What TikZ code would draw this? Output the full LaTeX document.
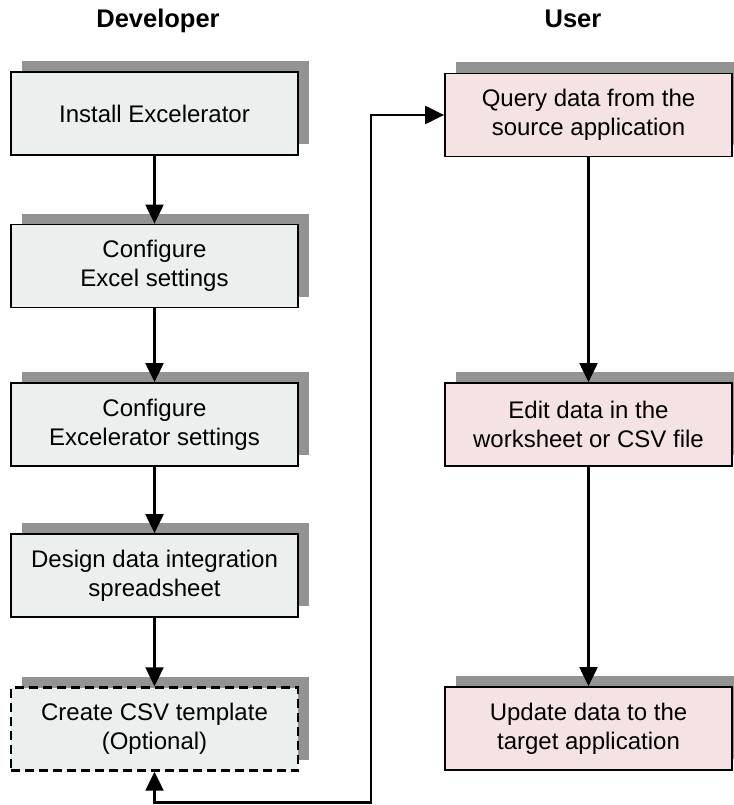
\documentclass[tikz,border=0pt]{standalone}
\usepackage{fontspec}
\setmainfont{Liberation Sans}
\usetikzlibrary{arrows.meta,positioning,shadows}
\definecolor{devfill}{HTML}{EBF0EE}
\definecolor{userfill}{HTML}{F5E3E3}
\definecolor{shadowgray}{HTML}{939393}

\begin{document}
\begin{tikzpicture}[x=1pt,y=-1pt,
    box/.style={draw,line width=1.8pt,minimum width=287pt,minimum height=83pt,
        align=center,inner sep=0pt,font=\fontsize{24}{29}\selectfont,
        drop shadow={shadow xshift=11pt,shadow yshift=11pt,fill=shadowgray,opacity=1}},
    devbox/.style={box,fill=devfill},
    userbox/.style={box,fill=userfill},
    flow/.style={line width=2.2pt,-{Triangle[width=18pt,length=19pt]}},
    title/.style={font=\bfseries\fontsize{25.5}{30}\selectfont,anchor=base}]
\useasboundingbox (0,0) rectangle (733,805);

% Column titles
\node[title] (devtitle) at (158,28) {Developer};
\node[title] (usertitle) at (573,28) {User};

% Developer steps
\node[devbox] (install) at (154.5,113.5) {Install Excelerator};
\node[devbox] (excel) at (154.5,266) {Configure\\Excel settings};
\node[devbox] (xlr) at (154.5,424.5) {Configure\\Excelerator settings};
\node[devbox] (design) at (154.5,575.5) {Design data integration\\spreadsheet};
\node[devbox,dashed,dash pattern=on 9pt off 5pt,line width=2.4pt] (csv) at (154.5,729) {Create CSV template\\(Optional)};

% User steps
\node[userbox] (query) at (588.5,115) {Query data from the\\source application};
\node[userbox] (edit) at (588.5,424.5) {Edit data in the\\worksheet or CSV file};
\node[userbox] (update) at (588.5,728.5) {Update data to the\\target application};

% Arrows
\draw[flow] (install) -- (excel);
\draw[flow] (excel) -- (xlr);
\draw[flow] (xlr) -- (design);
\draw[flow] (design) -- (csv);
\draw[flow] (query) -- (edit);
\draw[flow] (edit) -- (update);

% Link between the columns
\coordinate (fb) at (371,802.5);
\draw[flow,{Triangle[width=18pt,length=19pt]}-{Triangle[width=18pt,length=19pt]}]
    (csv.south) |- (fb) |- (query.west);
\end{tikzpicture}
\end{document}
